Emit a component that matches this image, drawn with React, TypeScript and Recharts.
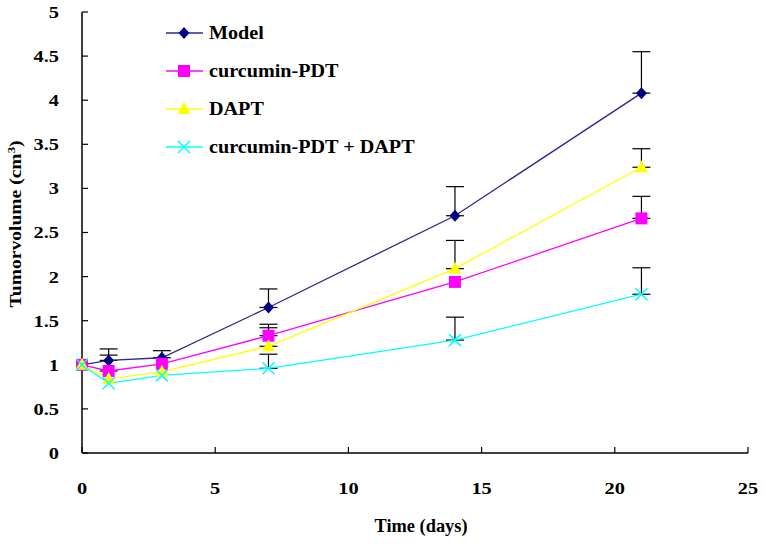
import React from "react";
import { LineChart, Line, XAxis, YAxis, ErrorBar, Legend } from "recharts";

// days after treatment
const days = [0, 1, 3, 7, 14, 21];

// tumour volume (cm3) per group
const model = [1.0, 1.05, 1.08, 1.65, 2.69, 4.08];
const curcuminPdt = [1.0, 0.93, 1.01, 1.33, 1.94, 2.66];
const dapt = [1.0, 0.84, 0.92, 1.21, 2.09, 3.24];
const combo = [1.0, 0.79, 0.88, 0.96, 1.28, 1.8];

// upper error (SD), null = no bar shown
const modelErr = [null, 0.13, 0.08, 0.21, 0.33, 0.47];
const curcuminPdtErr = [null, 0.18, null, 0.13, null, 0.25];
const daptErr = [null, null, null, 0.21, 0.32, 0.21];
const comboErr = [null, null, null, 0.16, 0.26, 0.3];

const xTicks = [0, 5, 10, 15, 20, 25];
const yTicks = [0, 0.5, 1, 1.5, 2, 2.5, 3, 3.5, 4, 4.5, 5];

const err = (e: number | null) => (e == null ? undefined : [0, e]);

const data = days.map((d, i) => ({
  day: d,
  model: model[i],
  modelErr: err(modelErr[i]),
  curcuminPdt: curcuminPdt[i],
  curcuminPdtErr: err(curcuminPdtErr[i]),
  dapt: dapt[i],
  daptErr: err(daptErr[i]),
  combo: combo[i],
  comboErr: err(comboErr[i]),
}));

const FONT = "'Liberation Serif', 'Times New Roman', serif";

const marker = (kind: string, cx: number, cy: number, key?: any) => {
  if (kind === "diamond")
    return (
      <polygon
        key={key}
        points={`${cx},${cy - 6} ${cx + 5.5},${cy} ${cx},${cy + 6} ${cx - 5.5},${cy}`}
        fill="#000080"
      />
    );
  if (kind === "square")
    return <rect key={key} x={cx - 6} y={cy - 6} width={12} height={12} fill="#FF00FF" />;
  if (kind === "triangle")
    return (
      <polygon
        key={key}
        points={`${cx},${cy - 7} ${cx + 6.5},${cy + 5} ${cx - 6.5},${cy + 5}`}
        fill="#FFFF00"
      />
    );
  return (
    <g key={key} stroke="#00FFFF" strokeWidth={1.5}>
      <line x1={cx - 6} y1={cy - 6} x2={cx + 6} y2={cy + 6} />
      <line x1={cx - 6} y1={cy + 6} x2={cx + 6} y2={cy - 6} />
    </g>
  );
};

const dotOf = (kind: string) => (props: any) => {
  const { cx, cy, index } = props;
  if (cx == null || cy == null) return <g key={`n-${index}`} />;
  return marker(kind, cx, cy, `${kind}-${index}`);
};

const series = [
  { key: "model", name: "Model", color: "#2A2A8A", kind: "diamond" },
  { key: "curcuminPdt", name: "curcumin-PDT", color: "#FF00FF", kind: "square" },
  { key: "dapt", name: "DAPT", color: "#FFFF00", kind: "triangle" },
  { key: "combo", name: "curcumin-PDT + DAPT", color: "#00FFFF", kind: "cross" },
];

const LegendBox = () => (
  <svg width={300} height={150}>
    {series.map((s, i) => (
      <g key={s.key} transform={`translate(0, ${12 + i * 38})`}>
        <line x1={0} x2={37} y1={0} y2={0} stroke={s.color} strokeWidth={1.3} />
        {marker(s.kind, 18, 0)}
        <g transform="translate(43, 0) scale(1.12, 1)">
          <text
            x={0}
            y={0}
            dy="0.35em"
            fontFamily={FONT}
            fontWeight={700}
            fontSize={18}
            fill="#000"
          >
            {s.name}
          </text>
        </g>
      </g>
    ))}
  </svg>
);

const YTick = (props: any) => {
  const { x, y, payload } = props;
  return (
    <g transform={`translate(${x}, ${y}) scale(1.2, 1)`}>
      <text
        x={0}
        y={0}
        dy="0.35em"
        textAnchor="end"
        fontFamily={FONT}
        fontWeight={700}
        fontSize={17}
        fill="#000"
      >
        {payload.value}
      </text>
    </g>
  );
};

const XTick = (props: any) => {
  const { x, y, payload } = props;
  return (
    <g transform={`translate(${x}, ${y}) scale(1.2, 1)`}>
      <text
        x={0}
        y={0}
        dy="0.35em"
        textAnchor="middle"
        fontFamily={FONT}
        fontWeight={700}
        fontSize={17}
        fill="#000"
      >
        {payload.value}
      </text>
    </g>
  );
};

const YLabel = () => (
  <text
    transform="translate(21, 224) rotate(-90)"
    textAnchor="middle"
    textLength={167}
    lengthAdjust="spacingAndGlyphs"
    fontFamily={FONT}
    fontWeight={700}
    fontSize={17}
    fill="#000"
  >
    Tumorvolume (cm<tspan dy={-6} fontSize={11}>3</tspan>
    <tspan dy={6}>)</tspan>
  </text>
);

const XLabel = () => (
  <text
    x={421}
    y={532}
    textAnchor="middle"
    textLength={93}
    lengthAdjust="spacingAndGlyphs"
    fontFamily={FONT}
    fontWeight={700}
    fontSize={18}
    fill="#000"
  >
    Time (days)
  </text>
);

export default function App() {
  return (
    <div style={{ position: "absolute", left: 0, top: 0, background: "#fff" }}>
      <LineChart
        width={766}
        height={544}
        data={data}
        margin={{ top: 12, right: 18, bottom: 0, left: 0 }}
      >
        <XAxis
          dataKey="day"
          type="number"
          domain={[0, 25]}
          ticks={xTicks}
          height={91}
          tickSize={-6}
          tickMargin={41}
          axisLine={{ stroke: "#000", strokeWidth: 1.5 }}
          tickLine={{ stroke: "#000", strokeWidth: 1.2 }}
          tick={<XTick />}
          label={<XLabel />}
        />
        <YAxis
          type="number"
          domain={[0, 5]}
          ticks={yTicks}
          width={82}
          tickSize={-6}
          tickMargin={29}
          axisLine={{ stroke: "#000", strokeWidth: 1.5 }}
          tickLine={{ stroke: "#000", strokeWidth: 1.2 }}
          tick={<YTick />}
          label={<YLabel />}
        />
        <Legend
          layout="vertical"
          align="center"
          verticalAlign="middle"
          wrapperStyle={{ left: 166, top: 21, width: 300 }}
          content={<LegendBox />}
        />
        {series.map((s) => (
          <Line
            key={s.key}
            dataKey={s.key}
            name={s.name}
            stroke={s.color}
            strokeWidth={1.3}
            dot={dotOf(s.kind)}
            activeDot={false}
            isAnimationActive={false}
          >
            <ErrorBar
              dataKey={`${s.key}Err`}
              direction="y"
              width={9}
              stroke="#000"
              strokeWidth={1.2}
              isAnimationActive={false}
            />
          </Line>
        ))}
      </LineChart>
    </div>
  );
}
